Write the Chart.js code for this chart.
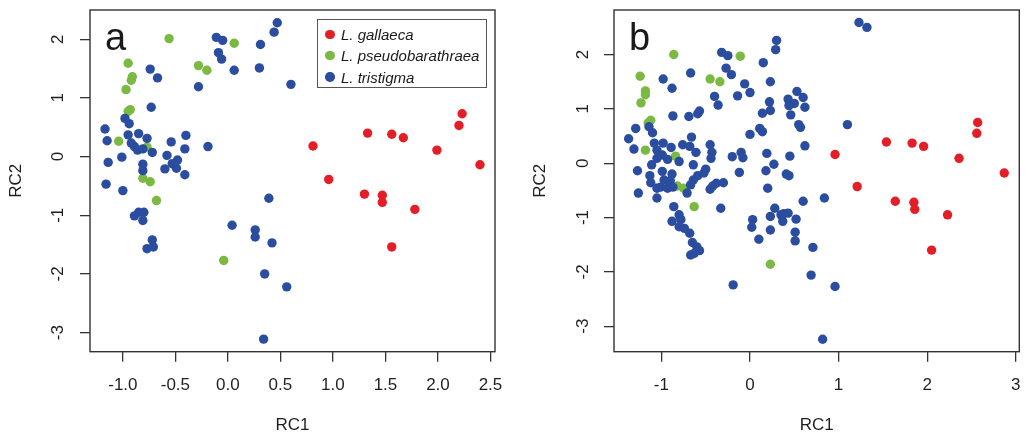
<!DOCTYPE html>
<html><head><meta charset="utf-8">
<script src="https://cdn.jsdelivr.net/npm/chart.js@4.4.1/dist/chart.umd.min.js"></script>
<style>
html,body{margin:0;padding:0;background:#fff;}
#wrap{position:relative;width:1025px;height:436px;overflow:hidden;font-family:"Liberation Sans",Arial,sans-serif;}
canvas{position:absolute;top:0;}
.plbl{position:absolute;font-size:38px;line-height:38px;color:#1a1a1a;}
#legbox{position:absolute;left:316.5px;top:19px;width:170px;height:69px;border:1px solid #555;box-sizing:border-box;}
.ldot{position:absolute;width:9.5px;height:9.5px;border-radius:50%;}
.ltxt{position:absolute;font-size:15px;line-height:15px;font-style:italic;color:#1a1a1a;white-space:nowrap;}
</style></head>
<body>
<div id="wrap">
<canvas id="ca" width="512" height="436" style="left:0"></canvas>
<canvas id="cb" width="513" height="436" style="left:512px"></canvas>
<div class="plbl" style="left:105px;top:18px">a</div>
<div class="plbl" style="left:629px;top:18px">b</div>
<div id="legbox"></div>
<div id="legitems"></div>
</div>
<script>
// ---- categories / legend labels
const speciesNames = ['L. gallaeca', 'L. pseudobarathraea', 'L. tristigma'];
const speciesColors = ['#E41E26', '#7AB942', '#2B4DA0'];

// ---- tick labels
const xTicksA = [-1.0, -0.5, 0.0, 0.5, 1.0, 1.5, 2.0, 2.5];
const xTicksB = [-1, 0, 1, 2, 3];
const yTicks = [-3, -2, -1, 0, 1, 2];

// ---- panel a values
const aGalX = [0.81,0.96,1.33,1.56,1.67,1.99,2.23,2.20,2.40,1.30,1.47,1.47,1.78,1.56];
const aGalY = [0.18,-0.39,0.40,0.38,0.32,0.11,0.73,0.53,-0.14,-0.64,-0.66,-0.78,-0.90,-1.54];
const aPseX = [-0.56,-0.95,-0.91,-0.92,-0.97,-0.93,-0.95,-0.28,-0.20,0.06,-1.04,-0.77,-0.81,-0.74,-0.68,-0.04];
const aPseY = [2.01,1.59,1.36,1.30,1.14,0.80,0.77,1.55,1.47,1.93,0.26,0.16,-0.37,-0.43,-0.75,-1.77];
const aTriX = [-0.11,-0.05,-0.09,-0.06,0.06,-0.28,-0.74,-0.67,-0.73,-0.98,-0.94,-1.17,-1.15,-1.14,-1.01,-1.16,-1.00,
  -0.95,-0.85,-0.77,-0.92,-0.89,-0.86,-0.81,-0.72,-0.54,-0.40,-0.41,-0.19,-0.58,-0.48,-0.53,-0.49,-0.60,-0.41,-0.81,-0.81,
  -0.89,-0.85,-0.80,-0.81,-0.72,-0.71,-0.77,0.47,0.44,0.31,0.30,0.60,0.39,0.26,0.26,0.42,0.35,0.56,0.34,0.04];
const aTriY = [2.03,1.98,1.77,1.66,1.47,1.19,1.49,1.34,0.84,0.65,0.56,0.47,0.27,-0.10,-0.01,-0.47,-0.58,
  0.37,0.39,0.31,0.23,0.17,0.11,0.13,0.07,0.25,0.36,0.13,0.17,0.02,-0.06,-0.12,-0.20,-0.21,-0.31,-0.13,-0.24,
  -1.01,-0.95,-0.95,-1.09,-1.42,-1.54,-1.57,2.28,2.12,1.91,1.51,1.23,-0.71,-1.25,-1.37,-1.47,-2.00,-2.22,-3.11,-1.17];

// ---- panel b values
const bGalX = [2.57,2.56,1.54,1.83,1.96,0.96,2.36,2.87,1.21,1.64,1.85,1.86,2.23,2.05];
const bGalY = [0.75,0.55,0.39,0.37,0.31,0.16,0.09,-0.18,-0.43,-0.70,-0.72,-0.85,-0.95,-1.60];
const bPseX = [-0.86,-0.11,-1.24,-0.45,-0.34,-1.18,-1.18,-1.23,-1.12,-1.15,-1.18,-0.84,-0.82,-0.75,-0.63,0.23];
const bPseY = [2.00,1.97,1.60,1.55,1.50,1.33,1.26,1.11,0.79,0.74,0.24,0.13,-0.42,-0.46,-0.80,-1.86];
const bTriX = [-0.32,-0.25,-0.27,-0.21,-0.67,0.15,0.23,-0.98,-0.88,-0.40,-0.36,-0.06,0.00,-0.14,0.30,0.29,1.23,1.32,
  -0.57,-0.59,-0.69,-0.87,0.14,0.23,0.22,-1.29,-1.14,-1.10,-1.37,-0.66,0.00,0.11,0.14,
  0.53,0.43,0.60,0.44,0.62,0.46,0.50,0.55,0.57,1.10,0.62,0.45,
  -1.31,-1.08,-0.98,-0.89,-1.05,-0.99,-1.05,-0.93,-1.11,-0.80,-0.76,-0.68,-0.61,-0.45,-0.43,-0.44,-0.64,-0.20,-0.10,-0.08,
  0.19,0.27,0.18,-0.12,-1.27,-1.13,-1.12,-0.99,-0.88,-0.97,-0.90,-1.01,-0.93,-0.87,-1.05,-0.50,-0.52,-0.59,-0.64,-0.67,
  -0.71,-0.42,-0.45,-0.38,-0.30,-1.26,-1.05,-0.86,-0.33,
  -0.80,-0.88,-0.78,-0.80,-0.74,-0.68,-0.65,-0.60,-0.57,-0.63,-0.67,
  0.03,0.02,0.10,0.28,0.23,0.23,0.35,0.37,0.20,0.41,0.44,0.60,0.84,0.38,0.43,0.52,0.51,0.51,0.71,0.69,0.96,0.82,-0.19];
const bTriY = [2.04,1.98,1.75,1.63,1.66,1.85,1.50,1.55,1.38,1.23,1.07,1.46,1.30,1.24,2.26,2.09,2.59,2.50,
  0.96,0.91,0.86,0.87,0.92,0.97,1.13,0.64,0.67,0.56,0.45,0.48,0.53,0.64,0.58,
  1.32,1.18,1.21,1.06,1.03,0.89,1.10,0.71,0.66,0.71,0.32,0.13,
  0.26,0.37,0.37,0.29,0.24,0.15,0.09,0.07,-0.03,0.03,0.34,0.31,0.20,0.34,0.20,0.09,-0.03,0.12,0.20,0.10,
  0.18,-0.02,-0.14,-0.17,-0.14,-0.23,-0.36,-0.15,-0.20,-0.31,-0.32,-0.44,-0.46,-0.44,-0.46,-0.11,-0.18,-0.23,-0.31,-0.40,
  -0.55,-0.42,-0.48,-0.37,-0.36,-0.55,-0.64,-0.80,-0.83,
  -0.95,-1.07,-1.04,-1.17,-1.20,-1.29,-1.46,-1.54,-1.61,-1.66,-1.69,
  -1.04,-1.18,-1.40,-0.83,-0.98,-1.23,-0.95,-1.07,-0.46,-0.20,-0.23,-0.70,-0.64,-0.93,-0.92,-1.03,-1.27,-1.43,-1.55,-2.06,-2.27,-3.24,-2.24];

const zip = (xs, ys) => xs.map((x, i) => ({x: x, y: ys[i]}));

const FONT = 'Liberation Sans';
const INK = '#1f1f1f';

const framePlugin = {
  id: 'frame',
  afterDatasetsDraw(chart) {
    const {ctx, chartArea: a} = chart;
    ctx.save();
    ctx.strokeStyle = '#333';
    ctx.lineWidth = 1.4;
    ctx.strokeRect(a.left, a.top, a.right - a.left, a.bottom - a.top);
    ctx.restore();
  }
};

function makeChart(id, sets, cfg) {
  const datasets = sets.map((s, i) => ({
    label: speciesNames[i],
    data: s,
    backgroundColor: speciesColors[i],
    borderWidth: 0,
    pointRadius: 4.7,
    pointHoverRadius: 4.7,
    order: 3 - i
  }));
  return new Chart(document.getElementById(id), {
    type: 'scatter',
    data: {datasets},
    plugins: [framePlugin],
    options: {
      responsive: false,
      animation: false,
      devicePixelRatio: 1,
      layout: {padding: {left: 0, right: cfg.padRight, top: 10, bottom: 0}},
      plugins: {legend: {display: false}, tooltip: {enabled: false}},
      scales: {
        x: {
          type: 'linear', position: 'bottom', min: cfg.xmin, max: cfg.xmax,
          afterBuildTicks: s => { s.ticks = cfg.xTicks.map(v => ({value: v})); },
          ticks: {autoSkip: false, maxRotation: 0, padding: 13, color: INK,
            font: {family: FONT, size: 17}, callback: cfg.xfmt},
          grid: {display: true, drawOnChartArea: false, drawTicks: true, tickLength: 10, color: '#333', lineWidth: 1.3},
          border: {display: false},
          title: {display: true, text: 'RC1', color: INK, font: {family: FONT, size: 17}, padding: {top: 0, bottom: 0}},
          afterFit: s => { s.height = 84.3; s.paddingLeft = 0; s.paddingRight = 0; }
        },
        y: {
          type: 'linear', position: 'left', min: cfg.ymin, max: cfg.ymax,
          afterBuildTicks: s => { s.ticks = yTicks.map(v => ({value: v})); },
          ticks: {autoSkip: false, minRotation: 90, maxRotation: 90, crossAlign: 'center', padding: cfg.yPad, color: INK,
            font: {family: FONT, size: 17}, callback: v => String(v)},
          grid: {display: true, drawOnChartArea: false, drawTicks: true, tickLength: 10, color: '#333', lineWidth: 1.3},
          border: {display: false},
          title: {display: true, text: 'RC2', color: INK, font: {family: FONT, size: 17}, padding: {top: cfg.yTitlePad, bottom: 0}},
          afterFit: s => { s.width = cfg.yWidth; s.paddingTop = 0; s.paddingBottom = 0; }
        }
      }
    }
  });
}

makeChart('ca', [zip(aGalX, aGalY), zip(aPseX, aPseY), zip(aTriX, aTriY)], {
  xmin: -1.313, xmax: 2.543, ymin: -3.325, ymax: 2.497, xTicks: xTicksA,
  xfmt: v => Number(v).toFixed(1), yWidth: 90, padRight: 17, yPad: 14, yTitlePad: 6
});
makeChart('cb', [zip(bGalX, bGalY), zip(bPseX, bPseY), zip(bTriX, bTriY)], {
  xmin: -1.535, xmax: 3.04, ymin: -3.47, ymax: 2.82, xTicks: xTicksB,
  xfmt: v => String(v), yWidth: 102, padRight: 5.7, yPad: 13, yTitlePad: 18
});

// legend (HTML, real text)
const legRowsY = [34.3, 55.5, 77];
const legItems = document.getElementById('legitems');
speciesNames.forEach((name, i) => {
  const d = document.createElement('div');
  d.className = 'ldot';
  d.style.background = speciesColors[i];
  d.style.left = (330 - 4.75) + 'px';
  d.style.top = (legRowsY[i] - 4.75) + 'px';
  legItems.appendChild(d);
  const t = document.createElement('div');
  t.className = 'ltxt';
  t.textContent = name;
  t.style.left = '341px';
  t.style.top = (legRowsY[i] - 7.5) + 'px';
  legItems.appendChild(t);
});
</script>
</body></html>
